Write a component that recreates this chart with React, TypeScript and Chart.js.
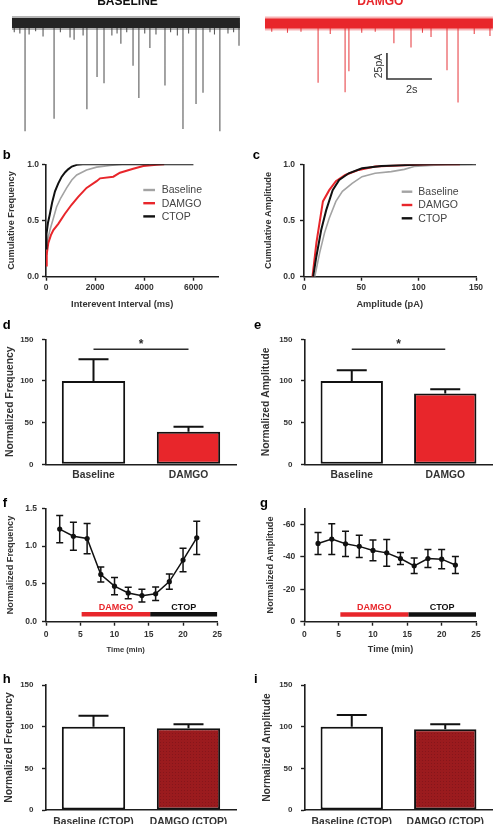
import React, { useEffect, useRef } from "react";
import { Chart, registerables } from "chart.js";

Chart.register(...registerables);

const FONT = '"Liberation Sans", Arial, Helvetica, sans-serif';
const INK = "#333333";
const AXIS = "#1e1e1e";
const RED = "#e8262b";
const DARK_RED = "#9b1b1e";
const GREY = "#a3a3a3";
const BLACK = "#111111";

// ---------- a: example recordings (time in s, current in pA) ----------
const TRACE_DURATION = 10.13;
const baselineEventTimes = [0.1, 0.35, 0.58, 0.76, 1.05, 1.38, 1.87, 2.15, 2.58, 2.76, 3.16, 3.33, 3.78, 4.09, 4.44, 4.67, 4.84, 5.1, 5.38, 5.64, 5.9, 6.13, 6.4, 6.8, 7.05, 7.35, 7.6, 7.85, 8.18, 8.49, 8.8, 9.0, 9.24, 9.6, 9.85, 10.09];
const baselineEventAmps = [-9, -10, -104, -11, -8, -13, -92, -9, -14, -16, -12, -83, -52, -58, -12, -10, -20, -9, -41, -72, -10, -24, -11, -60, -9, -12, -102, -10, -78, -67, -9, -11, -104, -10, -9, -22];
const damgoEventTimes = [0.3, 1.0, 1.6, 2.36, 2.9, 3.56, 3.73, 4.3, 4.9, 5.73, 6.49, 7.0, 7.38, 8.09, 8.58, 9.3, 10.0];
const damgoEventAmps = [-8, -9, -8, -57, -10, -66, -46, -9, -8, -19, -23, -9, -13, -45, -76, -10, -12];
const SCALE_BAR_PA = 25;
const SCALE_BAR_S = 2;
const scaleBarStart = 5.42;
const scaleBarTop = -28.4;

// ---------- b: cumulative interevent interval ----------
const baselineIntervalMs = [0, 40, 160, 300, 430, 600, 840, 1050, 1250, 1650, 2060, 2600, 3100, 4200];
const baselineIntervalCum = [0.2, 0.3, 0.415, 0.52, 0.62, 0.7, 0.79, 0.86, 0.905, 0.95, 0.975, 0.99, 1.0, 1.0];
const damgoIntervalMs = [0, 30, 95, 200, 300, 500, 770, 1040, 1310, 1650, 2060, 2200, 2740, 3010, 3550, 3960, 4500, 4810];
const damgoIntervalCum = [0.1, 0.2, 0.3, 0.37, 0.415, 0.47, 0.56, 0.64, 0.71, 0.79, 0.85, 0.875, 0.89, 0.925, 0.96, 0.985, 0.995, 1.0];
const ctopIntervalMs = [0, 20, 80, 160, 250, 366, 500, 640, 780, 900, 1050, 1250, 1500, 6000];
const ctopIntervalCum = [0.25, 0.38, 0.48, 0.56, 0.66, 0.76, 0.83, 0.89, 0.93, 0.955, 0.98, 0.995, 1.0, 1.0];
const intervalTicks = [0, 2000, 4000, 6000];

// ---------- c: cumulative amplitude ----------
const baselineAmpPa = [9.4, 13.6, 17.9, 22, 27.8, 33.5, 42, 50.6, 62, 76, 87.5, 96, 110, 124, 147];
const baselineAmpCum = [0, 0.21, 0.39, 0.52, 0.67, 0.76, 0.83, 0.89, 0.92, 0.935, 0.955, 0.98, 0.99, 0.997, 1.0];
const damgoAmpPa = [7.4, 10.8, 16.5, 22, 27.8, 36, 47.7, 62, 82, 110, 136];
const damgoAmpCum = [0, 0.3, 0.67, 0.77, 0.85, 0.905, 0.95, 0.98, 0.99, 1.0, 1.0];
const ctopAmpPa = [8, 10.8, 15, 19.3, 25, 30.7, 39, 50.6, 67.6, 96, 113, 150];
const ctopAmpCum = [0, 0.18, 0.415, 0.59, 0.77, 0.86, 0.92, 0.965, 0.985, 0.997, 1.0, 1.0];
const ampTicks = [0, 50, 100, 150];
const cumTicks = [0, 0.5, 1];

// ---------- d, e, h, i: normalized bars ----------
const conditions = ["Baseline", "DAMGO"];
const ctopConditions = ["Baseline (CTOP)", "DAMGO (CTOP)"];
const freqMeans = [100, 39];
const freqSems = [26, 6];
const ampMeans = [100, 85];
const ampSems = [13, 5];
const ctopFreqMeans = [100, 98];
const ctopFreqSems = [13, 5];
const ctopAmpMeans = [100, 97];
const ctopAmpSems = [14, 6];
const significanceLevel = 138;
const barTicks = [0, 50, 100, 150];

// ---------- f, g: time course ----------
const timeMin = [2, 4, 6, 8, 10, 12, 14, 16, 18, 20, 22];
const freqTimeMean = [1.225, 1.13, 1.1, 0.625, 0.47, 0.38, 0.345, 0.37, 0.53, 0.815, 1.11];
const freqTimeSem = [0.18, 0.185, 0.2, 0.1, 0.115, 0.075, 0.085, 0.09, 0.1, 0.155, 0.22];
const ampTimeMean = [-48.3, -51, -48.1, -46.5, -44, -42.5, -39, -34.5, -39, -38.6, -35];
const ampTimeSem = [6.8, 9.5, 7.8, 6.8, 6.4, 8.2, 3.7, 4.8, 5.6, 5.9, 5.2];
const timeTicks = [0, 5, 10, 15, 20, 25];
const freqTimeTicks = [0, 0.5, 1, 1.5];
const ampTimeTicks = [0, -20, -40, -60];
const drugNames = ["DAMGO", "CTOP"];
const drugColors = [RED, BLACK];
const freqDrugStart = [5.2, 15.2];
const freqDrugEnd = [15.2, 25];
const ampDrugStart = [5.25, 15.15];
const ampDrugEnd = [15.15, 25];

// ---------- shared plugins ----------
const errorBarPlugin = {
  id: "errorBars",
  afterDatasetsDraw(chart: any) {
    const ctx = chart.ctx;
    chart.data.datasets.forEach((ds: any, i: number) => {
      if (!ds.errors) return;
      const meta = chart.getDatasetMeta(i);
      const ys = chart.scales[meta.yAxisID];
      ctx.save();
      ctx.strokeStyle = ds.errorColor || BLACK;
      ctx.lineWidth = ds.errorWidth || 1.5;
      meta.data.forEach((el: any, j: number) => {
        const raw = ds.data[j];
        const v = typeof raw === "number" ? raw : raw.y;
        const e = ds.errors[j];
        const hi = ys.getPixelForValue(v + (ys.options.reverse ? -e : e));
        const lo = ds.errorBoth ? ys.getPixelForValue(v + (ys.options.reverse ? e : -e)) : ys.getPixelForValue(v);
        const h = ds.capHalf || 3.5;
        ctx.beginPath();
        ctx.moveTo(el.x, lo);
        ctx.lineTo(el.x, hi);
        ctx.moveTo(el.x - h, hi);
        ctx.lineTo(el.x + h, hi);
        if (ds.errorBoth) {
          ctx.moveTo(el.x - h, lo);
          ctx.lineTo(el.x + h, lo);
        }
        ctx.stroke();
      });
      ctx.restore();
    });
  },
};

const periodLabelPlugin = {
  id: "periodLabels",
  afterDatasetsDraw(chart: any) {
    const ctx = chart.ctx;
    chart.data.datasets.forEach((ds: any, i: number) => {
      if (!ds.periodLabel) return;
      const pts = chart.getDatasetMeta(i).data;
      const x = (pts[0].x + pts[pts.length - 1].x) / 2;
      ctx.save();
      ctx.font = `bold 9px ${FONT}`;
      ctx.fillStyle = ds.borderColor;
      ctx.textAlign = "center";
      ctx.textBaseline = "middle";
      ctx.fillText(ds.periodLabel, x, pts[0].y - 6.5);
      ctx.restore();
    });
  },
};

Chart.register(errorBarPlugin, periodLabelPlugin);

function significancePlugin(from: number, to: number, value: number, text: string) {
  return {
    id: "significance",
    afterDatasetsDraw(chart: any) {
      const { ctx } = chart;
      const xs = chart.scales.x;
      const ys = chart.scales.y;
      const x1 = xs.getPixelForValue(from);
      const x2 = xs.getPixelForValue(to);
      const py = ys.getPixelForValue(value);
      ctx.save();
      ctx.strokeStyle = "#2a2a2a";
      ctx.lineWidth = 1.6;
      ctx.beginPath();
      ctx.moveTo(x1, py);
      ctx.lineTo(x2, py);
      ctx.stroke();
      ctx.fillStyle = "#2a2a2a";
      ctx.font = `bold 12px ${FONT}`;
      ctx.textAlign = "center";
      ctx.textBaseline = "alphabetic";
      ctx.fillText(text, (x1 + x2) / 2, py - 1.7);
      ctx.restore();
    },
  };
}

// ---------- helpers ----------
const baseOptions = () => ({
  responsive: false,
  animation: false as const,
  devicePixelRatio: 1,
  events: [] as any[],
  plugins: { legend: { display: false }, tooltip: { enabled: false } },
});

function linearAxis(min: number, max: number, ticks: number[], fmt: (v: number) => string, pad: number, size: number, extra: any = {}) {
  return {
    type: "linear",
    min,
    max,
    afterBuildTicks: (s: any) => {
      s.ticks = ticks.map((v) => ({ value: v }));
    },
    border: { display: true, color: AXIS, width: 1.6 },
    grid: { display: true, drawOnChartArea: false, drawTicks: true, tickLength: 4, tickWidth: 1.4, tickColor: AXIS },
    ticks: { font: { family: FONT, size, weight: "bold" }, color: INK, padding: pad, callback: (v: any) => fmt(Number(v)) },
    ...extra,
  };
}

const pairs = (xs: number[], ys: number[]) => xs.map((x, i) => ({ x, y: ys[i] }));

function traceConfig(times: number[], amps: number[], band: string, fuzz: string, spike: string, yMin: number, yMax: number, extra: any[] = []) {
  const spikes: any[] = [];
  times.forEach((t, i) => {
    spikes.push({ x: t, y: 0 }, { x: t, y: amps[i] }, { x: t, y: null });
  });
  const flat = [
    { x: 0, y: 0 },
    { x: TRACE_DURATION, y: 0 },
  ];
  return {
    type: "line",
    data: {
      datasets: [
        ...extra,
        { data: flat, borderColor: band, borderWidth: 10, pointRadius: 0, borderCapStyle: "butt" },
        { data: flat, borderColor: fuzz, borderWidth: 14, pointRadius: 0, borderCapStyle: "butt" },
        { data: spikes, borderColor: spike, borderWidth: 1.1, pointRadius: 0, spanGaps: false },
      ],
    },
    options: {
      ...baseOptions(),
      scales: {
        x: { type: "linear", display: false, min: -0.533, max: 10.49 },
        y: { type: "linear", display: false, min: yMin, max: yMax },
      },
    },
  };
}

function cdfConfig(series: { label: string; x: number[]; y: number[]; color: string; width: number; order: number }[], xMax: number, xTicks: number[], yPad: number) {
  return {
    type: "line",
    data: {
      datasets: series.map((s) => ({
        label: s.label,
        data: pairs(s.x, s.y),
        borderColor: s.color,
        borderWidth: s.width,
        legendWidth: 2.4,
        pointRadius: 0,
        order: s.order,
      })),
    },
    options: {
      ...baseOptions(),
      scales: {
        x: linearAxis(0, xMax, xTicks, (v) => String(v), 2.2, 8.5),
        y: linearAxis(0, 1, cumTicks, (v) => v.toFixed(1), yPad, 8.5),
      },
    },
  };
}

function barConfig(cats: string[], values: number[], sems: number[], fills: any[], labelPad: number, plugins: any[] = []) {
  return {
    type: "bar",
    data: {
      labels: cats,
      datasets: [
        {
          data: values,
          errors: sems,
          capHalf: 15,
          errorWidth: 2,
          backgroundColor: fills,
          borderColor: BLACK,
          borderWidth: 2,
          borderSkipped: false,
          barPercentage: 0.667,
          categoryPercentage: 1,
        },
      ],
    },
    options: {
      ...baseOptions(),
      scales: {
        x: {
          type: "category",
          offset: true,
          border: { display: true, color: AXIS, width: 1.6 },
          grid: { display: true, drawOnChartArea: false, drawTicks: false },
          ticks: { font: { family: FONT, size: 10.3, weight: "bold" }, color: INK, padding: labelPad },
        },
        y: linearAxis(0, 150, barTicks, (v) => String(v), 8.5, 8),
      },
    },
    plugins,
  };
}

function timeCourseConfig(means: number[], sems: number[], y: any, starts: number[], ends: number[], level: number) {
  const periods = drugNames.map((name, k) => ({
    data: [
      { x: starts[k], y: level },
      { x: ends[k], y: level },
    ],
    periodLabel: name,
    borderColor: drugColors[k],
    borderWidth: 4.5,
    borderCapStyle: "butt",
    pointRadius: 0,
  }));
  return {
    type: "line",
    data: {
      datasets: [
        {
          data: pairs(timeMin, means),
          errors: sems,
          errorBoth: true,
          capHalf: 3.5,
          errorWidth: 1.5,
          borderColor: BLACK,
          borderWidth: 1.5,
          pointRadius: 2.6,
          pointBackgroundColor: BLACK,
          pointBorderWidth: 0,
        },
        ...periods,
      ],
    },
    options: {
      ...baseOptions(),
      scales: {
        x: linearAxis(0, 25, timeTicks, (v) => String(v), 3.5, 8.5),
        y,
      },
    },
  };
}

function speckle(base: string, dot: string) {
  const c = document.createElement("canvas");
  c.width = 3;
  c.height = 3;
  const g = c.getContext("2d")!;
  g.fillStyle = base;
  g.fillRect(0, 0, 3, 3);
  g.fillStyle = dot;
  g.fillRect(1, 1, 1, 1);
  return g.createPattern(c, "repeat");
}

// ---------- panel ----------
type Box = { left: number; top: number; width: number; height: number };
type Area = { x1: number; y1: number; x2: number; y2: number };
type Label = { text: string; x: number; y: number; size: number; bold?: boolean; color?: string; align?: CanvasTextAlign; baseline?: CanvasTextBaseline; vertical?: boolean };
type LegendSpec = { x: number; y: number; rowGap: number; lineLen: number; textX: number; size: number };

function Panel({ box, area, labels, legend, build }: { box: Box; area?: Area; labels: Label[]; legend?: LegendSpec; build: () => any }) {
  const ref = useRef<HTMLCanvasElement | null>(null);
  useEffect(() => {
    const canvas = ref.current;
    if (!canvas) return;
    const config = build();
    const opts = config.options;
    if (area) {
      opts.layout = { padding: { left: 0, top: area.y1 - box.top, right: box.left + box.width - area.x2, bottom: 0 } };
      opts.scales.x.afterFit = (s: any) => {
        s.height = box.top + box.height - area.y2;
      };
      opts.scales.y.afterFit = (s: any) => {
        s.width = area.x1 - box.left;
      };
    } else {
      opts.layout = { padding: 0 };
    }
    const textPlugin = {
      id: "panelText",
      afterDraw(chart: any) {
        const ctx = chart.ctx;
        ctx.save();
        for (const l of labels) {
          ctx.font = `${l.bold === false ? "" : "bold "}${l.size}px ${FONT}`;
          ctx.fillStyle = l.color || INK;
          ctx.textAlign = l.align || "center";
          ctx.textBaseline = l.baseline || "middle";
          const x = l.x - box.left;
          const y = l.y - box.top;
          if (l.vertical) {
            ctx.save();
            ctx.translate(x, y);
            ctx.rotate(-Math.PI / 2);
            ctx.fillText(l.text, 0, 0);
            ctx.restore();
          } else {
            ctx.fillText(l.text, x, y);
          }
        }
        if (legend) {
          const items = chart.data.datasets.filter((d: any) => d.label);
          items.forEach((d: any, k: number) => {
            const y = legend.y + k * legend.rowGap - box.top;
            ctx.strokeStyle = d.borderColor;
            ctx.lineWidth = d.legendWidth || d.borderWidth;
            ctx.beginPath();
            ctx.moveTo(legend.x - box.left, y);
            ctx.lineTo(legend.x + legend.lineLen - box.left, y);
            ctx.stroke();
            ctx.fillStyle = "#444";
            ctx.font = `${legend.size}px ${FONT}`;
            ctx.textAlign = "left";
            ctx.textBaseline = "middle";
            ctx.fillText(d.label, legend.textX - box.left, y + 0.5);
          });
        }
        ctx.restore();
      },
    };
    config.plugins = [...(config.plugins || []), textPlugin];
    const chart = new Chart(canvas, config);
    return () => chart.destroy();
  }, []);
  return (
    <canvas
      ref={ref}
      width={box.width}
      height={box.height}
      style={{ position: "absolute", left: box.left, top: box.top, width: box.width, height: box.height }}
    />
  );
}

const letter = (text: string, x: number, y: number): Label => ({ text, x, y, size: 13, color: "#000", align: "left", baseline: "alphabetic" });
const yTitle = (text: string, x: number, y: number, size: number): Label => ({ text, x, y, size, vertical: true });
const xTitle = (text: string, x: number, y: number, size: number): Label => ({ text, x, y, size });

export default function App() {
  const scaleBar = {
    data: [
      { x: scaleBarStart, y: scaleBarTop },
      { x: scaleBarStart, y: scaleBarTop - SCALE_BAR_PA },
      { x: scaleBarStart + SCALE_BAR_S, y: scaleBarTop - SCALE_BAR_PA },
    ],
    borderColor: "#333",
    borderWidth: 1.6,
    pointRadius: 0,
    borderJoinStyle: "miter",
  };

  return (
    <div style={{ position: "absolute", left: 0, top: 0, width: 501, height: 824, background: "#fff", overflow: "hidden" }}>
      <Panel
        box={{ left: 0, top: 0, width: 248, height: 140 }}
        labels={[{ text: "BASELINE", x: 127.5, y: 5, size: 12, color: "#111", baseline: "alphabetic" }]}
        build={() => traceConfig(baselineEventTimes, baselineEventAmps, "#242424", "rgba(40,40,40,0.35)", "#5a5a5a", -112.5, 22.1)}
      />
      <Panel
        box={{ left: 253, top: 0, width: 248, height: 140 }}
        labels={[
          { text: "DAMGO", x: 380.3, y: 5, size: 12, color: RED, baseline: "alphabetic" },
          { text: `${SCALE_BAR_PA}pA`, x: 379, y: 66, size: 10.5, bold: false, vertical: true },
          { text: `${SCALE_BAR_S}s`, x: 411.7, y: 89.5, size: 11, bold: false },
        ]}
        build={() => traceConfig(damgoEventTimes, damgoEventAmps, RED, "rgba(232,38,43,0.35)", "#e8484c", -112, 22.6, [scaleBar])}
      />

      <Panel
        box={{ left: 0, top: 140, width: 250, height: 172 }}
        area={{ x1: 46, y1: 164.3, x2: 218, y2: 276.7 }}
        labels={[letter("b", 2.7, 159.3), yTitle("Cumulative Frequency", 11, 220.5, 9.2), xTitle("Interevent Interval (ms)", 122.2, 304, 9.3)]}
        legend={{ x: 143.3, y: 190, rowGap: 13.2, lineLen: 11.7, textX: 161.7, size: 10.5 }}
        build={() =>
          cdfConfig(
            [
              { label: "Baseline", x: baselineIntervalMs, y: baselineIntervalCum, color: GREY, width: 1.6, order: 2 },
              { label: "DAMGO", x: damgoIntervalMs, y: damgoIntervalCum, color: RED, width: 2, order: 1 },
              { label: "CTOP", x: ctopIntervalMs, y: ctopIntervalCum, color: BLACK, width: 2, order: 0 },
            ],
            7000,
            intervalTicks,
            3
          )
        }
      />
      <Panel
        box={{ left: 250, top: 140, width: 251, height: 172 }}
        area={{ x1: 304, y1: 164.3, x2: 476, y2: 276.7 }}
        labels={[letter("c", 252.7, 159.3), yTitle("Cumulative Amplitude", 268.5, 220.5, 9.2), xTitle("Amplitude (pA)", 389.7, 304.5, 9.3)]}
        legend={{ x: 401.7, y: 191.7, rowGap: 13.3, lineLen: 10.6, textX: 418.3, size: 10.5 }}
        build={() =>
          cdfConfig(
            [
              { label: "Baseline", x: baselineAmpPa, y: baselineAmpCum, color: GREY, width: 1.6, order: 2 },
              { label: "DAMGO", x: damgoAmpPa, y: damgoAmpCum, color: RED, width: 2, order: 1 },
              { label: "CTOP", x: ctopAmpPa, y: ctopAmpCum, color: BLACK, width: 2, order: 0 },
            ],
            150,
            ampTicks,
            5
          )
        }
      />

      <Panel
        box={{ left: 0, top: 316, width: 250, height: 168 }}
        area={{ x1: 46, y1: 339.3, x2: 236, y2: 464.3 }}
        labels={[letter("d", 2.7, 329.3), yTitle("Normalized Frequency", 10, 401.8, 10.3)]}
        build={() => barConfig(conditions, freqMeans, freqSems, ["#ffffff", RED], 5, [significancePlugin(0, 1, significanceLevel, "*")])}
      />
      <Panel
        box={{ left: 250, top: 316, width: 251, height: 168 }}
        area={{ x1: 305, y1: 339.3, x2: 492, y2: 464.3 }}
        labels={[letter("e", 254, 329.3), yTitle("Normalized Amplitude", 266, 401.8, 10.3)]}
        build={() => barConfig(conditions, ampMeans, ampSems, ["#ffffff", RED], 5, [significancePlugin(0, 1, significanceLevel, "*")])}
      />

      <Panel
        box={{ left: 0, top: 488, width: 250, height: 168 }}
        area={{ x1: 46, y1: 508.3, x2: 217.3, y2: 621.7 }}
        labels={[letter("f", 2.7, 506.7), yTitle("Normalized Frequency", 10.5, 565, 9.2), xTitle("Time (min)", 125.7, 649.5, 7.6)]}
        build={() =>
          timeCourseConfig(
            freqTimeMean,
            freqTimeSem,
            linearAxis(0, 1.5, freqTimeTicks, (v) => v.toFixed(1), 5, 8.5),
            freqDrugStart,
            freqDrugEnd,
            0.1
          )
        }
      />
      <Panel
        box={{ left: 250, top: 488, width: 251, height: 168 }}
        area={{ x1: 304.3, y1: 508.3, x2: 476, y2: 621.7 }}
        labels={[letter("g", 260, 506.7), yTitle("Normalized Amplitude", 270.7, 565, 9.2), xTitle("Time (min)", 390.5, 649.5, 9)]}
        build={() =>
          timeCourseConfig(
            ampTimeMean,
            ampTimeSem,
            linearAxis(-70, 0, ampTimeTicks, (v) => String(v), 5, 8.5, { reverse: true }),
            ampDrugStart,
            ampDrugEnd,
            -4.5
          )
        }
      />

      <Panel
        box={{ left: 0, top: 666, width: 250, height: 158 }}
        area={{ x1: 46, y1: 685, x2: 236, y2: 810 }}
        labels={[letter("h", 2.7, 683.3), yTitle("Normalized Frequency", 9.5, 747.5, 10.3)]}
        build={() => barConfig(ctopConditions, ctopFreqMeans, ctopFreqSems, ["#ffffff", speckle(DARK_RED, "#86151a")], 5.8)}
      />
      <Panel
        box={{ left: 250, top: 666, width: 251, height: 158 }}
        area={{ x1: 305, y1: 685, x2: 492, y2: 810 }}
        labels={[letter("i", 254, 683.3), yTitle("Normalized Amplitude", 267, 747.5, 10.3)]}
        build={() => barConfig(ctopConditions, ctopAmpMeans, ctopAmpSems, ["#ffffff", speckle(DARK_RED, "#86151a")], 5.8)}
      />
    </div>
  );
}
